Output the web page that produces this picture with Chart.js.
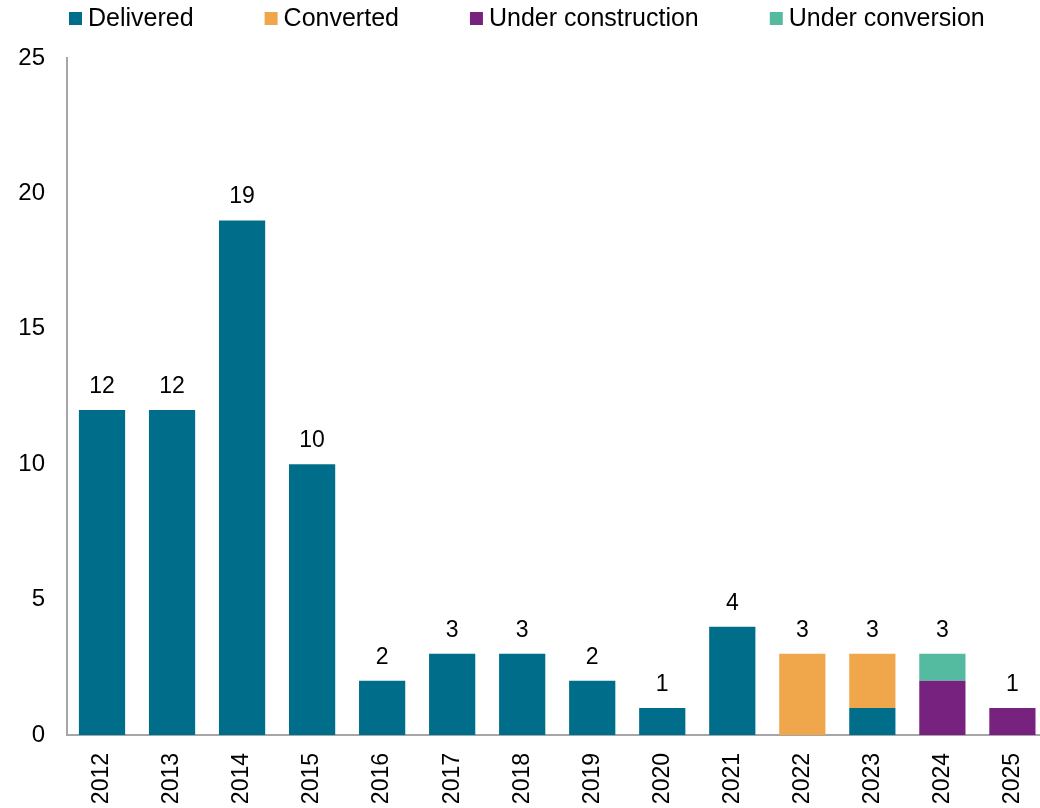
<!DOCTYPE html>
<html>
<head>
<meta charset="utf-8">
<script src="https://cdn.jsdelivr.net/npm/chart.js@4"></script>
<style>
    html, body { margin: 0; padding: 0; background: #fff; overflow: hidden; }
    #wrap { width: 1058px; height: 808px; }
</style>
</head>
<body>
<div id="wrap"><canvas id="chart" width="1058" height="808"></canvas></div>
<script>
const years = ["2012", "2013", "2014", "2015", "2016", "2017", "2018", "2019", "2020", "2021", "2022", "2023", "2024", "2025"];
const delivered = [12, 12, 19, 10, 2, 3, 3, 2, 1, 4, 0, 1, 0, 0];
const converted = [0, 0, 0, 0, 0, 0, 0, 0, 0, 0, 3, 2, 0, 0];
const underConstruction = [0, 0, 0, 0, 0, 0, 0, 0, 0, 0, 0, 0, 2, 1];
const underConversion = [0, 0, 0, 0, 0, 0, 0, 0, 0, 0, 0, 0, 1, 0];
const yTicks = [0, 5, 10, 15, 20, 25];

const font = "'Liberation Sans', Arial, sans-serif";
const axisGrey = "#A6A6A6";

// totals above each stack
const totals = {
    id: "totals",
    afterDatasetsDraw(chart) {
        const { ctx, scales } = chart;
        ctx.save();
        ctx.font = "23px " + font;
        ctx.fillStyle = "#000";
        ctx.textAlign = "center";
        ctx.textBaseline = "alphabetic";
        years.forEach((year, i) => {
            const sum = chart.data.datasets.reduce((acc, ds) => acc + (ds.data[i] || 0), 0);
            const x = scales.x.getPixelForValue(i);
            const y = scales.y.getPixelForValue(sum);
            ctx.fillText(String(sum), x, y - 17);
        });
        ctx.restore();
    }
};

// legend row along the top (built-in legend pads vertically as much as horizontally)
const topLegend = {
    id: "topLegend",
    afterDraw(chart) {
        const { ctx, chartArea } = chart;
        const box = 13, gap = 6, spacing = 71;
        ctx.save();
        ctx.font = "25px " + font;
        ctx.textBaseline = "middle";
        ctx.textAlign = "left";
        let x = chartArea.left + 2;
        const y = 18.5;
        chart.data.datasets.forEach((ds) => {
            ctx.fillStyle = ds.backgroundColor;
            ctx.fillRect(x, y - box / 2, box, box);
            x += box + gap;
            ctx.fillStyle = "#000";
            ctx.fillText(ds.label, x, y + 1);
            x += ctx.measureText(ds.label).width + spacing;
        });
        ctx.restore();
    }
};

const series = [
    { label: "Delivered", data: delivered, backgroundColor: "#006E8A" },
    { label: "Converted", data: converted, backgroundColor: "#F0A64B" },
    { label: "Under construction", data: underConstruction, backgroundColor: "#78227F" },
    { label: "Under conversion", data: underConversion, backgroundColor: "#55BBA0" },
];

new Chart(document.getElementById("chart"), {
    type: "bar",
    data: {
        labels: years,
        datasets: series.map((s) => ({
            ...s,
            borderWidth: 0,
            barPercentage: 0.66,
            categoryPercentage: 1,
        })),
    },
    plugins: [totals, topLegend],
    options: {
        responsive: false,
        animation: false,
        devicePixelRatio: 1,
        layout: { padding: { top: 58, left: 0, right: 0, bottom: 0 } },
        plugins: {
            tooltip: { enabled: false },
            legend: { display: false },
        },
        scales: {
            x: {
                stacked: true,
                grid: { display: false, drawTicks: false },
                border: { display: true, color: axisGrey, width: 2 },
                ticks: {
                    color: "#000",
                    font: { size: 23, family: font },
                    minRotation: 90,
                    maxRotation: 90,
                    padding: 18,
                },
                afterFit(scale) { scale.height = 73; },
            },
            y: {
                stacked: true,
                min: 0,
                max: 25,
                afterBuildTicks(scale) { scale.ticks = yTicks.map((v) => ({ value: v })); },
                grid: { display: false, drawTicks: false },
                border: { display: true, color: axisGrey, width: 2 },
                ticks: {
                    color: "#000",
                    font: { size: 24, family: font },
                    padding: 22,
                },
                afterFit(scale) { scale.width = 67; },
            },
        },
    },
});
</script>
</body>
</html>
